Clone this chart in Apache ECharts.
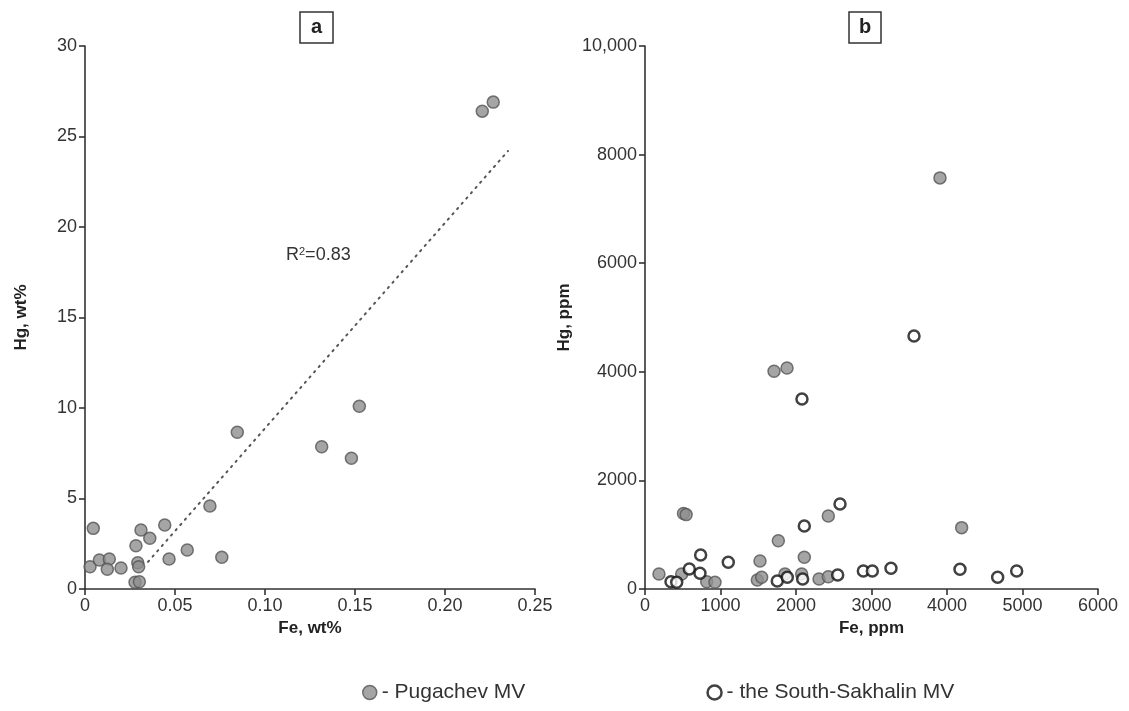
<!DOCTYPE html>
<html>
<head>
<meta charset="utf-8">
<script src="https://cdn.jsdelivr.net/npm/echarts@6/dist/echarts.min.js"></script>
<style>
  html, body { margin: 0; padding: 0; background: #fff; }
  #chart { width: 1129px; height: 711px; }
</style>
</head>
<body>
<div id="chart"></div>
<script>
// panel a: Fe, wt% vs Hg, wt% (Pugachev MV only)
var pugA = [
  [0.0046, 3.35], [0.0028, 1.23], [0.008, 1.6], [0.0135, 1.66], [0.0124, 1.09],
  [0.020, 1.16], [0.0283, 2.39], [0.0311, 3.26], [0.036, 2.8], [0.0443, 3.54],
  [0.0293, 1.45], [0.0298, 1.23], [0.0278, 0.37], [0.0302, 0.40], [0.0467, 1.66],
  [0.0568, 2.15], [0.076, 1.75], [0.0694, 4.59], [0.0846, 8.66], [0.1315, 7.86],
  [0.148, 7.22], [0.1524, 10.1], [0.2207, 26.4], [0.2268, 26.9]
];
// dotted trend line ends
var trendA = [[0.035, 1.5], [0.235, 24.2]];

// panel b: Fe, ppm vs Hg, ppm
var pugB = [
  [185, 276], [486, 276], [510, 1390], [545, 1370], [817, 135], [927, 123],
  [1523, 516], [1488, 166], [1545, 215], [1766, 890], [1854, 276], [2110, 584],
  [2075, 276], [2305, 184], [2428, 227], [2428, 1345], [4194, 1130],
  [1709, 4010], [1881, 4070], [3907, 7571]
];
var sakhB = [
  [344, 135], [420, 123], [587, 368], [728, 289], [737, 626], [1103, 491],
  [1752, 147], [1885, 215], [2088, 184], [2110, 1160], [2552, 258], [2583, 1566],
  [2892, 332], [3011, 332], [3258, 381], [4172, 363], [4671, 215], [4923, 332],
  [3563, 4660], [2079, 3500]
];

var font = 'Liberation Sans, Arial, sans-serif';
var axisCol = '#333';

function axisBase(extra) {
  var a = {
    axisLine: { show: true, lineStyle: { color: axisCol, width: 1.6 } },
    axisTick: { show: true, length: 6, lineStyle: { color: axisCol, width: 1.6 } },
    axisLabel: { color: '#333', fontSize: 18, fontFamily: font, margin: 8 },
    splitLine: { show: false },
    nameLocation: 'middle',
    nameTextStyle: { color: '#222', fontSize: 17, fontWeight: 'bold', fontFamily: font }
  };
  for (var k in extra) a[k] = extra[k];
  return a;
}

var gray = { color: '#8e8e8e', borderColor: '#555', borderWidth: 1.5 };
var hollow = { color: '#fff', borderColor: '#111', borderWidth: 2.5 };

var chart = echarts.init(document.getElementById('chart'));
chart.setOption({
  animation: false,
  backgroundColor: '#fff',
  title: [
    { text: 'a', left: 300, top: 12, padding: [5, 11, 6, 11], borderColor: '#333', borderWidth: 1.5,
      textStyle: { fontSize: 20, fontWeight: 'bold', color: '#222', fontFamily: font } },
    { text: 'b', left: 849, top: 12, padding: [5, 10, 6, 10], borderColor: '#333', borderWidth: 1.5,
      textStyle: { fontSize: 20, fontWeight: 'bold', color: '#222', fontFamily: font } }
  ],
  legend: {
    left: 357, top: 677, itemGap: 181, itemWidth: 14, itemHeight: 14,
    formatter: '- {name}',
    textStyle: { fontSize: 21, color: '#333', fontFamily: font },
    data: [
      { name: 'Pugachev MV', itemStyle: gray },
      { name: 'the South-Sakhalin MV', itemStyle: hollow }
    ]
  },
  grid: [
    { left: 85, top: 46, width: 450, height: 543 },
    { left: 645, top: 46, width: 453, height: 543 }
  ],
  xAxis: [
    axisBase({ gridIndex: 0, type: 'value', min: 0, max: 0.25, interval: 0.05, name: 'Fe, wt%', nameGap: 22,
      axisLabel: { color: '#333', fontSize: 18, fontFamily: font, margin: 8,
        formatter: function (v) { return v === 0 ? '0' : v.toFixed(2); } } }),
    axisBase({ gridIndex: 1, type: 'value', min: 0, max: 6000, interval: 1000, name: 'Fe, ppm', nameGap: 22,
      axisLabel: { color: '#333', fontSize: 18, fontFamily: font, margin: 8,
        formatter: function (v) { return String(v); } } })
  ],
  yAxis: [
    axisBase({ gridIndex: 0, type: 'value', min: 0, max: 30, interval: 5, name: 'Hg, wt%', nameGap: 55 }),
    axisBase({ gridIndex: 1, type: 'value', min: 0, max: 10000, interval: 2000, name: 'Hg, ppm', nameGap: 72,
      axisLabel: { color: '#333', fontSize: 18, fontFamily: font, margin: 8,
        formatter: function (v) { return v === 10000 ? '10,000' : String(v); } } })
  ],
  graphic: [
    { type: 'text', left: 286, top: 246,
      style: { text: '{r|R}{s|2}{r|=0.83}', fontFamily: font,
        rich: { r: { fontSize: 18, fill: '#333', fontFamily: font },
                s: { fontSize: 11, fill: '#333', fontFamily: font, verticalAlign: 'top', padding: [0, 0, 8, 0] } } } }
  ],
  series: [
    { name: 'trend', type: 'line', xAxisIndex: 0, yAxisIndex: 0, data: trendA, symbol: 'none',
      lineStyle: { color: '#555', width: 2, type: [1.5, 5.5], cap: 'round' }, silent: true, z: 1 },
    { name: 'Pugachev MV', type: 'scatter', xAxisIndex: 0, yAxisIndex: 0, data: pugA,
      symbolSize: 12, itemStyle: gray, z: 3 },
    { name: 'Pugachev MV', type: 'scatter', xAxisIndex: 1, yAxisIndex: 1, data: pugB,
      symbolSize: 12, itemStyle: gray, z: 3 },
    { name: 'the South-Sakhalin MV', type: 'scatter', xAxisIndex: 1, yAxisIndex: 1, data: sakhB,
      symbolSize: 11, itemStyle: hollow, z: 4 }
  ]
});
</script>
</body>
</html>
